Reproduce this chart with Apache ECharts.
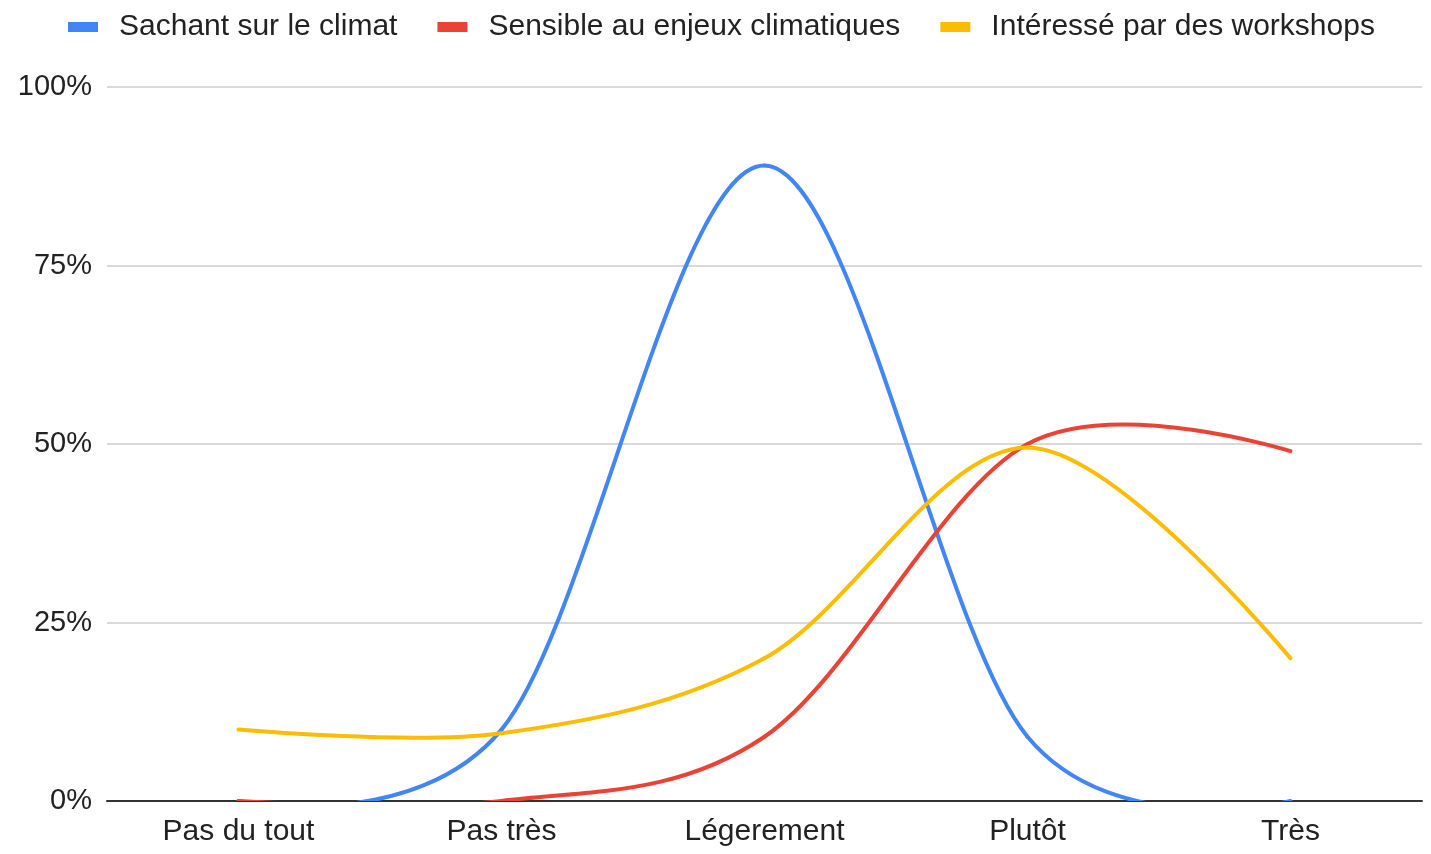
<!DOCTYPE html>
<html>
<head>
<meta charset="utf-8">
<script src="https://cdn.jsdelivr.net/npm/echarts@6/dist/echarts.min.js"></script>
<style>
  html, body { margin: 0; padding: 0; background: #fff; }
  #main { width: 1431px; height: 854px; }
</style>
</head>
<body>
<div id="main"></div>
<script>
// categories (x axis)
const categories = ['Pas du tout', 'Pas très', 'Légerement', 'Plutôt', 'Très'];
// values in %
const sachant = [0, 10, 89, 9, 0];
const sensible = [0, 0, 9, 50, 49];
const interesse = [10, 9.5, 20, 49.5, 20];
const yTicks = [0, 25, 50, 75, 100];

const font = '"Liberation Sans", Arial, sans-serif';

// one bezier segment per point, catmull-rom style (like the google sheets curve)
// at the two ends the control point sits on the end point itself
function curveSeries(name, values, color) {
  return {
    name: name,
    type: 'custom',
    clip: true,
    color: color,
    itemStyle: { color: color },
    data: values.map((v, i) => [i, v]),
    renderItem: function (params, api) {
      var i = params.dataIndex;
      var n = values.length;
      if (i >= n - 1) return null;
      var pt = k => api.coord([k, values[k]]);
      var p1 = pt(i), p2 = pt(i + 1);
      var c1 = p1, c2 = p2;
      if (i > 0) {
        var p0 = pt(i - 1);
        c1 = [p1[0] + (p2[0] - p0[0]) / 6, p1[1] + (p2[1] - p0[1]) / 6];
      }
      if (i + 2 < n) {
        var p3 = pt(i + 2);
        c2 = [p2[0] - (p3[0] - p1[0]) / 6, p2[1] - (p3[1] - p1[1]) / 6];
      }
      return {
        type: 'bezierCurve',
        shape: {
          x1: p1[0], y1: p1[1],
          cpx1: c1[0], cpy1: c1[1],
          cpx2: c2[0], cpy2: c2[1],
          x2: p2[0], y2: p2[1]
        },
        style: { stroke: color, lineWidth: 4, fill: null, lineCap: 'round' }
      };
    }
  };
}

var chartDom = document.getElementById('main');
var myChart = echarts.init(chartDom);
var option = {
  animation: false,
  textStyle: { fontFamily: font },
  legend: {
    left: 63,
    top: 7,
    icon: 'rect',
    itemWidth: 30,
    itemHeight: 10,
    itemGap: 40,
    textStyle: {
      fontSize: 30,
      color: '#222',
      fontFamily: font,
      padding: [0, 0, 0, 16]
    },
    data: ['Sachant sur le climat', 'Sensible au enjeux climatiques', 'Intéressé par des workshops']
  },
  grid: {
    left: 107,
    right: 9,
    top: 87,
    bottom: 53,
    containLabel: false
  },
  xAxis: {
    type: 'category',
    boundaryGap: true,
    data: categories,
    axisLine: { lineStyle: { color: '#333', width: 2 } },
    axisTick: { show: false },
    axisLabel: { fontSize: 30, color: '#222', margin: 16, fontFamily: font }
  },
  yAxis: {
    type: 'value',
    min: yTicks[0],
    max: yTicks[yTicks.length - 1],
    interval: yTicks[1] - yTicks[0],
    axisLabel: { formatter: '{value}%', fontSize: 29, color: '#222', margin: 15, fontFamily: font },
    splitLine: { lineStyle: { color: '#cccccc', width: 1.5 } },
    axisLine: { show: false },
    axisTick: { show: false }
  },
  series: [
    curveSeries('Sachant sur le climat', sachant, '#4285F4'),
    curveSeries('Sensible au enjeux climatiques', sensible, '#EA4335'),
    curveSeries('Intéressé par des workshops', interesse, '#FBBC04')
  ]
};
myChart.setOption(option);
</script>
</body>
</html>
